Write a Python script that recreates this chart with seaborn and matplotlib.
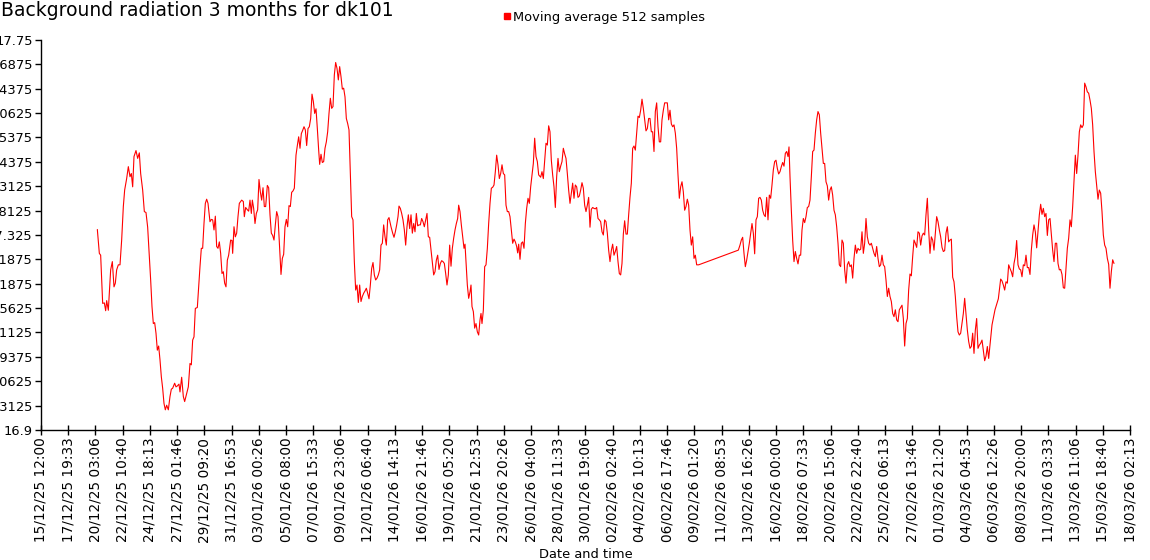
import matplotlib
matplotlib.use("Agg")

import matplotlib.pyplot as plt
from matplotlib.lines import Line2D
import seaborn as sns
import pandas as pd

# -----------------------------------------------------------------------
# Data: days elapsed since 15/12/25 12:00 and the
# 512-sample moving average of the background radiation level
# -----------------------------------------------------------------------

start = pd.Timestamp("2025-12-15 12:00")

elapsed_days = [
    # 20/12 - 01/01
    4.790, 4.960, 5.073, 5.243, 5.385, 5.498, 5.583, 5.725, 5.923, 6.065,
    6.206, 6.320, 6.433, 6.575, 6.717, 6.858, 7.000, 7.113, 7.283, 7.425,
    7.567, 7.680, 7.794, 7.907, 8.077, 8.219, 8.360, 8.474, 8.644, 8.786,
    8.927, 9.069, 9.211, 9.324, 9.437, 9.551, 9.664, 9.777, 9.891, 10.004,
    10.117, 10.231, 10.344, 10.457, 10.571, 10.684, 10.826, 10.968, 11.081, 11.194,
    11.364, 11.478, 11.591, 11.733, 11.818, 11.960, 12.101, 12.215, 12.385, 12.526,
    12.668, 12.782, 12.895, 13.008, 13.122, 13.292, 13.405, 13.518, 13.632, 13.745,
    13.858, 13.972, 14.085, 14.199, 14.368, 14.482, 14.595, 14.709, 14.822, 14.935,
    15.049, 15.162, 15.275, 15.389, 15.502, 15.615, 15.729, 15.842, 15.955, 16.125,
    16.239, 16.296, 16.409, 16.522, 16.636, 16.749, 16.863,
    # 01/01 - 14/01
    17.062, 17.203, 17.288, 17.402, 17.544, 17.657, 17.770, 17.884, 17.969, 18.082,
    18.195, 18.309, 18.422, 18.535, 18.649, 18.762, 18.876, 18.989, 19.102, 19.244,
    19.357, 19.471, 19.584, 19.698, 19.811, 19.924, 20.038, 20.151, 20.264, 20.406,
    20.519, 20.633, 20.746, 20.860, 20.973, 21.086, 21.200, 21.313, 21.426, 21.540,
    21.681, 21.795, 21.908, 22.022, 22.135, 22.248, 22.362, 22.475, 22.588, 22.702,
    22.815, 22.929, 23.042, 23.155, 23.269, 23.382, 23.495, 23.609, 23.694, 23.807,
    23.920, 24.034, 24.147, 24.261, 24.374, 24.487, 24.601, 24.714, 24.827, 24.941,
    25.054, 25.168, 25.281, 25.394, 25.508, 25.621, 25.734, 25.848, 25.961, 26.074,
    26.188, 26.301, 26.415, 26.528, 26.641, 26.755, 26.868, 26.981, 27.095, 27.208,
    27.322, 27.435, 27.548, 27.662, 27.775, 27.888, 28.002, 28.115, 28.228, 28.342,
    28.455, 28.569, 28.682, 28.795, 28.909, 29.022, 29.135, 29.249, 29.362, 29.476,
    29.589,
    # 14/01 - 27/01
    29.759, 29.901, 30.014, 30.127, 30.241, 30.354, 30.439, 30.553, 30.666, 30.779,
    30.893, 31.006, 31.119, 31.233, 31.346, 31.460, 31.573, 31.686, 31.800, 31.913,
    32.026, 32.140, 32.253, 32.366, 32.480, 32.593, 32.707, 32.820, 32.933, 33.047,
    33.160, 33.273, 33.387, 33.500, 33.614, 33.727, 33.840, 33.954, 34.067, 34.180,
    34.294, 34.407, 34.520, 34.634, 34.747, 34.861, 34.974, 35.087, 35.201, 35.314,
    35.427, 35.512, 35.626, 35.739, 35.853, 35.966, 36.051, 36.164, 36.249, 36.363,
    36.476, 36.561, 36.646, 36.760, 36.873, 36.986, 37.100, 37.213, 37.326, 37.411,
    37.496, 37.610, 37.723, 37.837, 37.950, 38.063, 38.177, 38.290, 38.403, 38.517,
    38.630, 38.743, 38.857, 38.970, 39.084, 39.197, 39.310, 39.424, 39.537, 39.650,
    39.764, 39.877, 39.990, 40.104, 40.217, 40.331, 40.444, 40.529, 40.614, 40.727,
    40.841, 40.954, 41.067, 41.181, 41.294, 41.408, 41.521, 41.634, 41.748, 41.861,
    41.974, 42.088, 42.201, 42.315,
    # 27/01 - 09/02 (then a gap in the readings)
    42.484, 42.597, 42.710, 42.824, 42.937, 43.051, 43.164, 43.277, 43.391, 43.504,
    43.617, 43.731, 43.844, 43.958, 44.071, 44.184, 44.298, 44.411, 44.524, 44.638,
    44.751, 44.864, 44.978, 45.091, 45.205, 45.318, 45.431, 45.545, 45.658, 45.771,
    45.885, 45.998, 46.111, 46.225, 46.338, 46.452, 46.565, 46.678, 46.792, 46.905,
    47.018, 47.132, 47.245, 47.359, 47.472, 47.585, 47.699, 47.812, 47.925, 48.039,
    48.152, 48.265, 48.379, 48.492, 48.606, 48.719, 48.832, 48.946, 49.059, 49.172,
    49.286, 49.399, 49.513, 49.626, 49.739, 49.853, 49.966, 50.079, 50.193, 50.306,
    50.419, 50.533, 50.646, 50.760, 50.873, 50.986, 51.100, 51.213, 51.326, 51.440,
    51.553, 51.667, 51.780, 51.893, 52.007, 52.120, 52.233, 52.347, 52.460, 52.573,
    52.687, 52.800, 52.914, 53.027, 53.140, 53.254, 53.367, 53.480, 53.594, 53.707,
    53.821, 53.934, 54.047, 54.161, 54.274, 54.387, 54.501, 54.614, 54.727, 54.841,
    54.954, 55.068, 55.181, 55.294, 55.408, 55.521, 55.634, 55.748, 55.918,
    # 12/02 - 23/02
    59.291, 59.432, 59.546, 59.659, 59.772, 59.886, 59.999, 60.112, 60.226, 60.339,
    60.453, 60.566, 60.679, 60.793, 60.906, 61.019, 61.133, 61.246, 61.359, 61.473,
    61.586, 61.700, 61.813, 61.926, 62.040, 62.153, 62.267, 62.380, 62.493, 62.607,
    62.720, 62.833, 62.947, 63.060, 63.173, 63.287, 63.400, 63.514, 63.599, 63.684,
    63.797, 63.910, 64.024, 64.137, 64.250, 64.364, 64.477, 64.591, 64.704, 64.817,
    64.931, 65.044, 65.157, 65.271, 65.384, 65.498, 65.611, 65.724, 65.838, 65.951,
    66.064, 66.178, 66.291, 66.405, 66.518, 66.631, 66.745, 66.858, 66.971, 67.085,
    67.198, 67.311, 67.425, 67.538, 67.652, 67.765, 67.878,
    # 23/02 - 07/03
    67.992, 68.105, 68.218, 68.332, 68.445, 68.559, 68.672, 68.785, 68.899, 69.012,
    69.125, 69.239, 69.352, 69.465, 69.579, 69.692, 69.806, 69.919, 70.032, 70.146,
    70.259, 70.372, 70.486, 70.599, 70.713, 70.826, 70.939, 71.053, 71.166, 71.279,
    71.393, 71.506, 71.619, 71.733, 71.846, 71.960, 72.073, 72.186, 72.300, 72.413,
    72.526, 72.640, 72.753, 72.866, 72.980, 73.093, 73.207, 73.320, 73.433, 73.547,
    73.660, 73.773, 73.887, 74.000, 74.114, 74.227, 74.340, 74.454, 74.567, 74.680,
    74.794, 74.907, 75.021, 75.134, 75.247, 75.361, 75.474, 75.587, 75.701, 75.814,
    75.927, 76.041, 76.154, 76.268, 76.381, 76.494, 76.608, 76.721, 76.834, 76.948,
    77.061, 77.174, 77.288, 77.401, 77.515, 77.628, 77.741, 77.855, 77.968, 78.081,
    78.195, 78.308, 78.422, 78.535, 78.648, 78.762, 78.875, 78.988, 79.102, 79.215,
    79.328, 79.442, 79.555, 79.669, 79.782, 79.895, 80.009, 80.122, 80.235, 80.349,
    80.462, 80.575, 80.859, 81.114,
    # 07/03 - 16/03
    81.398, 81.483, 81.596, 81.709, 81.823, 81.936, 82.049, 82.163, 82.276, 82.390,
    82.503, 82.616, 82.730, 82.843, 82.956, 83.070, 83.183, 83.296, 83.410, 83.523,
    83.637, 83.750, 83.863, 83.977, 84.090, 84.203, 84.317, 84.430, 84.544, 84.657,
    84.770, 84.884, 84.997, 85.110, 85.224, 85.337, 85.450, 85.564, 85.677, 85.791,
    85.904, 86.017, 86.131, 86.244, 86.357, 86.471, 86.584, 86.697, 86.811, 86.924,
    87.038, 87.151, 87.264, 87.378, 87.491, 87.604, 87.718, 87.831, 87.945, 88.058,
    88.171, 88.285, 88.398, 88.511, 88.625, 88.738, 88.851, 88.965, 89.078, 89.192,
    89.305, 89.418, 89.532, 89.645, 89.758, 89.872, 89.985, 90.099, 90.212, 90.325,
    90.439, 90.552, 90.665, 90.779, 90.892, 91.005, 91.119, 91.232,
]

avg_level = [
    # 20/12 - 01/01
    17.337, 17.285, 17.281, 17.176, 17.177, 17.160, 17.182, 17.161, 17.249, 17.267,
    17.212, 17.220, 17.249, 17.260, 17.260, 17.314, 17.387, 17.423, 17.448, 17.474,
    17.452, 17.459, 17.430, 17.496, 17.509, 17.492, 17.504, 17.459, 17.423, 17.376,
    17.374, 17.342, 17.278, 17.227, 17.169, 17.132, 17.134, 17.111, 17.074, 17.083,
    17.053, 17.016, 16.991, 16.958, 16.944, 16.954, 16.944, 16.973, 16.989, 16.991,
    17.002, 16.994, 16.996, 17.000, 16.983, 17.015, 16.973, 16.962, 16.980, 16.994,
    17.045, 17.042, 17.096, 17.103, 17.165, 17.167, 17.212, 17.256, 17.296, 17.296,
    17.350, 17.394, 17.403, 17.394, 17.354, 17.359, 17.358, 17.336, 17.366, 17.300,
    17.296, 17.310, 17.285, 17.241, 17.245, 17.220, 17.212, 17.270, 17.281, 17.314,
    17.313, 17.285, 17.343, 17.321, 17.329, 17.365, 17.394,
    # 01/01 - 14/01
    17.401, 17.398, 17.365, 17.385, 17.380, 17.377, 17.401, 17.372, 17.401, 17.383,
    17.350, 17.372, 17.380, 17.446, 17.419, 17.401, 17.428, 17.387, 17.387, 17.433,
    17.428, 17.369, 17.329, 17.324, 17.314, 17.347, 17.376, 17.365, 17.310, 17.239,
    17.274, 17.283, 17.343, 17.359, 17.343, 17.389, 17.387, 17.418, 17.421, 17.427,
    17.499, 17.520, 17.539, 17.514, 17.546, 17.553, 17.561, 17.554, 17.520, 17.557,
    17.561, 17.579, 17.632, 17.616, 17.590, 17.600, 17.557, 17.510, 17.479, 17.501,
    17.483, 17.485, 17.514, 17.528, 17.550, 17.590, 17.623, 17.601, 17.605, 17.674,
    17.701, 17.688, 17.663, 17.692, 17.670, 17.643, 17.645, 17.626, 17.579, 17.568,
    17.554, 17.463, 17.365, 17.358, 17.267, 17.205, 17.216, 17.178, 17.216, 17.180,
    17.191, 17.198, 17.203, 17.209, 17.198, 17.186, 17.216, 17.252, 17.265, 17.238,
    17.227, 17.231, 17.238, 17.249, 17.303, 17.307, 17.347, 17.321, 17.303, 17.358,
    17.363,
    # 14/01 - 27/01
    17.343, 17.329, 17.320, 17.332, 17.347, 17.365, 17.388, 17.383, 17.372, 17.358,
    17.336, 17.303, 17.343, 17.369, 17.339, 17.369, 17.329, 17.350, 17.332, 17.372,
    17.345, 17.347, 17.347, 17.361, 17.354, 17.343, 17.358, 17.372, 17.321, 17.320,
    17.292, 17.263, 17.238, 17.245, 17.270, 17.281, 17.250, 17.263, 17.269, 17.267,
    17.263, 17.241, 17.216, 17.238, 17.303, 17.257, 17.296, 17.318, 17.336, 17.350,
    17.361, 17.390, 17.376, 17.347, 17.321, 17.296, 17.305, 17.256, 17.216, 17.187,
    17.201, 17.216, 17.169, 17.158, 17.122, 17.132, 17.114, 17.107, 17.140, 17.154,
    17.132, 17.161, 17.256, 17.260, 17.296, 17.350, 17.394, 17.427, 17.429, 17.434,
    17.463, 17.499, 17.478, 17.448, 17.459, 17.478, 17.459, 17.456, 17.390, 17.376,
    17.376, 17.365, 17.336, 17.307, 17.316, 17.310, 17.300, 17.286, 17.305, 17.272,
    17.307, 17.310, 17.296, 17.350, 17.383, 17.405, 17.394, 17.430, 17.456, 17.481,
    17.536, 17.496, 17.485, 17.456,
    # 27/01 - 09/02
    17.451, 17.463, 17.448, 17.488, 17.525, 17.521, 17.563, 17.550, 17.488, 17.456,
    17.430, 17.385, 17.452, 17.492, 17.463, 17.475, 17.485, 17.514, 17.502, 17.492,
    17.459, 17.423, 17.394, 17.416, 17.438, 17.405, 17.434, 17.430, 17.407, 17.410,
    17.423, 17.439, 17.427, 17.390, 17.376, 17.390, 17.407, 17.342, 17.381, 17.385,
    17.383, 17.382, 17.385, 17.361, 17.358, 17.354, 17.332, 17.325, 17.358, 17.354,
    17.329, 17.292, 17.267, 17.291, 17.305, 17.281, 17.289, 17.300, 17.267, 17.241,
    17.238, 17.263, 17.327, 17.356, 17.327, 17.327, 17.369, 17.407, 17.438, 17.514,
    17.519, 17.510, 17.547, 17.584, 17.581, 17.597, 17.621, 17.601, 17.576, 17.552,
    17.557, 17.579, 17.579, 17.550, 17.550, 17.507, 17.594, 17.613, 17.561, 17.528,
    17.528, 17.576, 17.597, 17.613, 17.613, 17.613, 17.576, 17.597, 17.567, 17.561,
    17.565, 17.547, 17.514, 17.456, 17.405, 17.430, 17.441, 17.419, 17.379, 17.387,
    17.403, 17.390, 17.336, 17.303, 17.321, 17.274, 17.281, 17.260, 17.260,
    # 12/02 - 23/02
    17.292, 17.303, 17.314, 17.320, 17.285, 17.256, 17.270, 17.289, 17.307, 17.329,
    17.350, 17.329, 17.284, 17.358, 17.365, 17.405, 17.407, 17.401, 17.379, 17.369,
    17.365, 17.407, 17.358, 17.412, 17.405, 17.434, 17.467, 17.485, 17.488, 17.470,
    17.458, 17.463, 17.474, 17.483, 17.475, 17.503, 17.507, 17.496, 17.517, 17.452,
    17.379, 17.314, 17.267, 17.289, 17.274, 17.262, 17.281, 17.281, 17.336, 17.361,
    17.352, 17.365, 17.385, 17.387, 17.401, 17.452, 17.507, 17.510, 17.547, 17.576,
    17.594, 17.587, 17.547, 17.514, 17.481, 17.481, 17.441, 17.432, 17.401, 17.423,
    17.430, 17.412, 17.379, 17.369, 17.343, 17.307, 17.260,
    # 23/02 - 07/03
    17.256, 17.314, 17.307, 17.249, 17.220, 17.260, 17.267, 17.256, 17.260, 17.231,
    17.274, 17.303, 17.285, 17.296, 17.292, 17.294, 17.332, 17.285, 17.307, 17.361,
    17.321, 17.307, 17.303, 17.307, 17.296, 17.285, 17.278, 17.300, 17.274, 17.256,
    17.260, 17.281, 17.260, 17.256, 17.227, 17.191, 17.209, 17.191, 17.180, 17.154,
    17.147, 17.162, 17.140, 17.136, 17.162, 17.167, 17.172, 17.143, 17.083, 17.132,
    17.143, 17.205, 17.240, 17.236, 17.278, 17.314, 17.307, 17.298, 17.332, 17.329,
    17.303, 17.323, 17.329, 17.325, 17.369, 17.405, 17.336, 17.285, 17.321, 17.314,
    17.292, 17.329, 17.365, 17.354, 17.336, 17.321, 17.298, 17.289, 17.291, 17.329,
    17.343, 17.310, 17.314, 17.316, 17.233, 17.223, 17.191, 17.147, 17.114, 17.107,
    17.111, 17.132, 17.154, 17.187, 17.154, 17.118, 17.093, 17.078, 17.082, 17.111,
    17.067, 17.118, 17.143, 17.078, 17.085, 17.089, 17.096, 17.074, 17.051, 17.061,
    17.082, 17.056, 17.129, 17.162,
    # 07/03 - 16/03
    17.186, 17.205, 17.229, 17.225, 17.216, 17.205, 17.223, 17.220, 17.260, 17.252,
    17.245, 17.234, 17.263, 17.278, 17.313, 17.260, 17.251, 17.249, 17.234, 17.260,
    17.258, 17.281, 17.254, 17.254, 17.239, 17.292, 17.325, 17.347, 17.332, 17.297,
    17.332, 17.369, 17.392, 17.370, 17.383, 17.365, 17.372, 17.324, 17.358, 17.361,
    17.325, 17.292, 17.267, 17.307, 17.307, 17.263, 17.249, 17.250, 17.239, 17.210,
    17.209, 17.252, 17.296, 17.318, 17.358, 17.343, 17.387, 17.441, 17.499, 17.459,
    17.499, 17.550, 17.565, 17.559, 17.565, 17.656, 17.648, 17.637, 17.634, 17.619,
    17.601, 17.565, 17.507, 17.463, 17.434, 17.403, 17.423, 17.416, 17.376, 17.325,
    17.303, 17.296, 17.274, 17.261, 17.209, 17.245, 17.271, 17.263,
]

assert len(elapsed_days) == len(avg_level), (len(elapsed_days), len(avg_level))

y_ticks = [16.9, 16.953125, 17.00625, 17.059375, 17.1125, 17.165625, 17.21875,
           17.271875, 17.325, 17.378125, 17.43125, 17.484375, 17.5375,
           17.590625, 17.64375, 17.696875, 17.75]

x_tick_labels = [
    "15/12/25 12:00", "17/12/25 19:33", "20/12/25 03:06", "22/12/25 10:40",
    "24/12/25 18:13", "27/12/25 01:46", "29/12/25 09:20", "31/12/25 16:53",
    "03/01/26 00:26", "05/01/26 08:00", "07/01/26 15:33", "09/01/26 23:06",
    "12/01/26 06:40", "14/01/26 14:13", "16/01/26 21:46", "19/01/26 05:20",
    "21/01/26 12:53", "23/01/26 20:26", "26/01/26 04:00", "28/01/26 11:33",
    "30/01/26 19:06", "02/02/26 02:40", "04/02/26 10:13", "06/02/26 17:46",
    "09/02/26 01:20", "11/02/26 08:53", "13/02/26 16:26", "16/02/26 00:00",
    "18/02/26 07:33", "20/02/26 15:06", "22/02/26 22:40", "25/02/26 06:13",
    "27/02/26 13:46", "01/03/26 21:20", "04/03/26 04:53", "06/03/26 12:26",
    "08/03/26 20:00", "11/03/26 03:33", "13/03/26 11:06", "15/03/26 18:40",
    "18/03/26 02:13",
]

title = "Background radiation 3 months for dk101"
series_name = "Moving average 512 samples"

# -----------------------------------------------------------------------
# Plot
# -----------------------------------------------------------------------

sns.set_style("ticks")
plt.rcParams["font.family"] = ["DejaVu Sans"]
plt.rcParams["text.color"] = "black"
plt.rcParams["axes.labelcolor"] = "black"
plt.rcParams["xtick.color"] = "black"
plt.rcParams["ytick.color"] = "black"

df = pd.DataFrame({
    "time": start + pd.to_timedelta(elapsed_days, unit="D"),
    "level": avg_level,
})

fig = plt.figure(figsize=(11.5, 5.6), dpi=100)
ax = fig.add_axes([41 / 1150, 130 / 560, 1089 / 1150, 390 / 560])

sns.lineplot(data=df, x="time", y="level", color="#ff0000", linewidth=0.8,
             ax=ax, legend=False)

tick_times = pd.to_datetime(x_tick_labels, format="%d/%m/%y %H:%M")
ax.set_xlim(tick_times[0], tick_times[-1])
ax.set_xticks(tick_times)
ax.set_xticklabels(x_tick_labels, rotation=90)

ax.set_ylim(y_ticks[0], y_ticks[-1])
ax.set_yticks(y_ticks)
ax.set_yticklabels([str(v) for v in y_ticks])

sns.despine(ax=ax)
for side in ("left", "bottom"):
    ax.spines[side].set_color("black")
    ax.spines[side].set_linewidth(1)

ax.tick_params(axis="y", direction="out", length=4, width=1, pad=2, labelsize=9.4)
ax.tick_params(axis="x", direction="inout", length=7, width=1, pad=2, labelsize=9.8)

ax.set_xlabel("Date and time", fontsize=9.4, labelpad=4)
ax.set_ylabel("")

fig.text(0.001, 1 - 11 / 560, title, fontsize=13.5, ha="left", va="center")

marker = Line2D([], [], marker="s", color="#ff0000", linestyle="none", markersize=5)
fig.legend(handles=[marker], labels=[series_name], loc="center",
           bbox_to_anchor=(604 / 1150, 1 - 17 / 560), frameon=False,
           fontsize=9.4, handlelength=0.6, handletextpad=0.15,
           borderpad=0, borderaxespad=0)

fig.savefig("out.png", dpi=100)
plt.close(fig)
